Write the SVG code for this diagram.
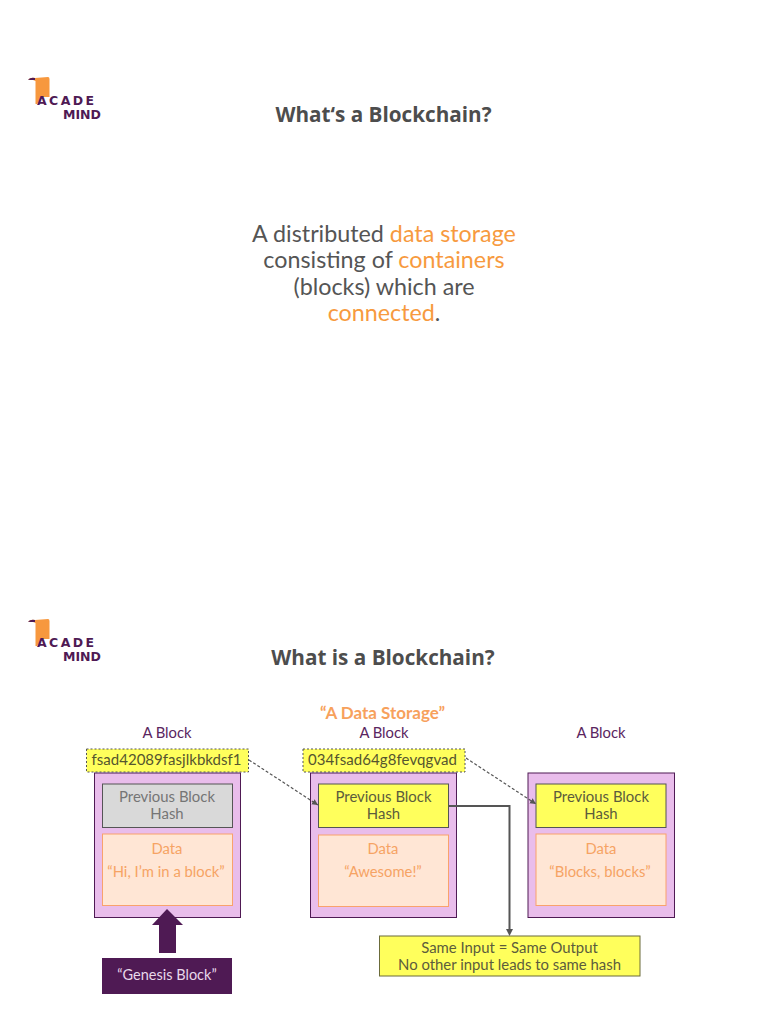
<svg xmlns="http://www.w3.org/2000/svg" width="768" height="1024" viewBox="0 0 768 1024">
<style>
text{font-family:"Lato","Liberation Sans",sans-serif;text-anchor:middle}
.title{font-family:"Open Sans","DejaVu Sans",sans-serif;font-weight:700;font-size:20.700px;fill:#4d4d4d}
.lead{font-size:23.300px;fill:#555}
.hl{fill:#f79a3e}
.logo{font-family:"DejaVu Sans",sans-serif;font-weight:700;font-size:12.500px;fill:#4f1a54;text-anchor:start}
.lbl{font-size:14.800px;fill:#5a2560}
.blk{fill:#e9bdeb;stroke:#4f1a54;stroke-width:1}
.prev{stroke:#555;stroke-width:1}
.y{fill:#ffff5c}
.g{fill:#d9d9d9}
.ptxt{font-size:14.900px;fill:#5c5c3c}
.gtxt{font-size:14.900px;fill:#757575}
.data{fill:#ffe6d5;stroke:#f9a26c;stroke-width:1}
.dtxt{font-size:14.800px;fill:#f6a364}
.hash{fill:#ffff5c;stroke:#555;stroke-width:1;stroke-dasharray:2 2}
.htxt{font-size:15px;fill:#55552f}
.dash{fill:none;stroke:#555;stroke-width:1.200;stroke-dasharray:3 2;marker-end:url(#a)}
</style>
<defs>
<marker id="a" markerWidth="7" markerHeight="7" refX="6" refY="3" orient="auto" markerUnits="userSpaceOnUse"><path d="M0 0L6 3L0 6z" fill="#555"/></marker>
<g id="logo">
<path d="M28 79.500Q31 77 35 78L48 77Q49.500 77 49.500 79V97H42L37 104H35.500V81L33 80Z" fill="#f7983e"/>
<path d="M28 79.500Q31 77 35 78V80H30Z" fill="#4f1a54"/>
<text class="logo" x="37" y="105" textLength="57" lengthAdjust="spacing">ACADE</text>
<text class="logo" x="63" y="118.500" textLength="38" lengthAdjust="spacingAndGlyphs">MIND</text>
</g>
</defs>
<g id="slide1">
<use href="#logo"/>
<text class="title" x="383.500" y="121.500">What‘s a Blockchain?</text>
<text class="lead" x="384" y="241.500">A distributed <tspan class="hl">data storage</tspan></text>
<text class="lead" x="384" y="268">consisting of <tspan class="hl">containers</tspan></text>
<text class="lead" x="384" y="294.500">(blocks) which are</text>
<text class="lead" x="384" y="320.500"><tspan class="hl">connected</tspan>.</text>
</g>
<g id="slide2">
<use href="#logo" y="542"/>
<text class="title" x="383" y="665">What is a Blockchain?</text>
<text x="382.500" y="719" font-size="17" font-weight="700" fill="#f7a15c">“A Data Storage”</text>
<text class="lbl" x="167" y="738">A Block</text>
<text class="lbl" x="384" y="738">A Block</text>
<text class="lbl" x="601" y="738">A Block</text>
</g>
<g id="block1">
<rect class="blk" x="94.500" y="773" width="146" height="144.500"/>
<rect class="prev g" x="102.500" y="784" width="130" height="43.500"/>
<text class="gtxt" x="167" y="802">Previous Block</text>
<text class="gtxt" x="167" y="819">Hash</text>
<rect class="data" x="102.500" y="834" width="130" height="71.500"/>
<text class="dtxt" x="167" y="854">Data</text>
<text class="dtxt" x="166" y="877">“Hi, I’m in a block”</text>
</g>
<g id="block2">
<rect class="blk" x="310.500" y="773" width="146" height="144.500"/>
<rect class="prev y" x="318.500" y="784" width="130" height="43.500"/>
<text class="ptxt" x="383.500" y="802">Previous Block</text>
<text class="ptxt" x="383.500" y="819">Hash</text>
<rect class="data" x="318.500" y="835" width="130" height="71.500"/>
<text class="dtxt" x="383" y="854">Data</text>
<text class="dtxt" x="383" y="877">“Awesome!”</text>
</g>
<g id="block3">
<rect class="blk" x="528" y="773" width="146.500" height="144.500"/>
<rect class="prev y" x="536" y="784" width="130" height="43.500"/>
<text class="ptxt" x="601" y="802">Previous Block</text>
<text class="ptxt" x="601" y="819">Hash</text>
<rect class="data" x="536" y="834" width="130" height="71.500"/>
<text class="dtxt" x="601" y="854">Data</text>
<text class="dtxt" x="600" y="877">“Blocks, blocks”</text>
</g>
<g id="hash1">
<rect class="hash" x="86.500" y="749" width="162" height="23"/>
<text class="htxt" x="166.500" y="765" textLength="150" lengthAdjust="spacing">fsad42089fasjlkbkdsf1</text>
</g>
<g id="hash2">
<rect class="hash" x="303" y="749" width="162" height="23"/>
<text class="htxt" x="382.500" y="765" textLength="149" lengthAdjust="spacing">034fsad64g8fevqgvad</text>
</g>
<g id="genesis">
<path d="M152 925L167 909L183 925H176V953H159V925Z" fill="#4f1a54"/>
<rect x="102" y="958" width="130" height="36" fill="#4f1a54"/>
<text x="167" y="980" font-size="14.500" fill="#e8d8ea">“Genesis Block”</text>
</g>
<g id="note">
<rect x="379.500" y="936" width="260.500" height="40" fill="#ffff5c" stroke="#6b6b3a"/>
<text class="ptxt" x="509.500" y="952.500">Same Input = Same Output</text>
<text class="ptxt" x="509.500" y="970">No other input leads to same hash</text>
</g>
<g id="connectors">
<path class="dash" d="M249 760L318 805"/>
<path class="dash" d="M466 758L536 804"/>
<path d="M449 806H509.500V930" fill="none" stroke="#555" stroke-width="2"/>
<path d="M506 929H513L509.500 936Z" fill="#555"/>
</g>
</svg>
